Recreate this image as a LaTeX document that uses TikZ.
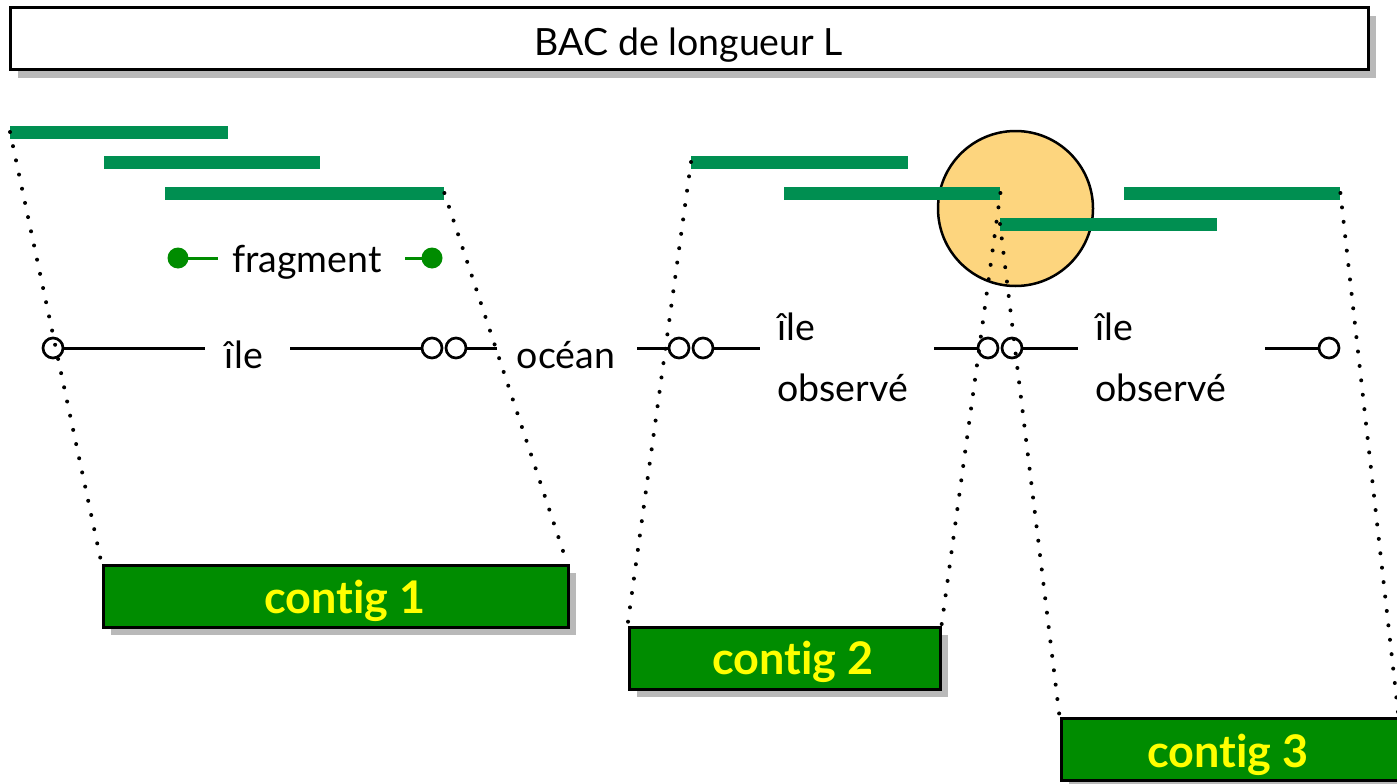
\documentclass[tikz,border=0pt]{standalone}
\usepackage{fontspec}
\setmainfont[Ligatures=NoCommon]{Lato}
\usetikzlibrary{shadows}
\definecolor{barc}{RGB}{0,143,81}
\definecolor{leggreen}{RGB}{0,140,0}
\definecolor{contigc}{RGB}{0,140,0}
\definecolor{orangec}{RGB}{253,213,126}
\definecolor{txtyellow}{RGB}{255,255,0}
\tikzset{
  bar/.style={rectangle,fill=barc,inner sep=0,minimum height=13pt,anchor=west},
  pt/.style={circle,draw=black,line width=2.7pt,fill=white,inner sep=0,minimum size=20pt},
  seg/.style={line width=3pt},
  dots/.style={line width=4pt,line cap=round,dash pattern=on 0pt off 14.5pt},
  contig/.style={rectangle,draw=black,line width=3pt,fill=contigc,inner sep=0,minimum height=62pt,
     drop shadow={shadow xshift=8pt,shadow yshift=-8pt,opacity=0.55}},
  ctext/.style={text=txtyellow,font=\fontsize{45}{48}\selectfont\bfseries,inner sep=0},
  lbl/.style={font=\fontsize{37.5}{61}\selectfont,inner sep=0},
}
\begin{document}
\begin{tikzpicture}[x=1pt,y=-1pt]
\useasboundingbox (0,0) rectangle (1397,784);
% title
\node[rectangle,draw=black,line width=3pt,fill=white,minimum width=1358pt,minimum height=62pt,inner sep=0,
  drop shadow={shadow xshift=8pt,shadow yshift=-8pt,opacity=0.55}] (title) at (689,39) {};
\node[lbl] (titletext) at (689,45) {BAC de longueur L};
% orange circle
\node[circle,draw=black,line width=2.5pt,fill=orangec,minimum size=155pt,inner sep=0] (blob) at (1015.5,208.5) {};
% fragments
\node[bar,minimum width=218pt] (b1) at (10,132) {};
\node[bar,minimum width=216pt] (b2) at (104,162) {};
\node[bar,minimum width=279pt] (b3) at (165,193) {};
\node[bar,minimum width=217pt] (b4) at (691,162) {};
\node[bar,minimum width=216pt] (b5) at (784,193) {};
\node[bar,minimum width=217pt] (b6) at (1000,224) {};
\node[bar,minimum width=216pt] (b7) at (1124,193) {};
% legend
\node[circle,fill=leggreen,inner sep=0,minimum size=21pt] (ld1) at (178,258) {};
\node[circle,fill=leggreen,inner sep=0,minimum size=21pt] (ld2) at (432,258) {};
\node[lbl] (frag) at (307,262) {fragment};
\coordinate (lg1) at (218,258);
\coordinate (lg2) at (405,258);
\draw[leggreen,line width=3pt] (ld1.center) -- (lg1);
\draw[leggreen,line width=3pt] (lg2) -- (ld2.center);
% main line texts
\node[lbl] (ile1) at (244,355) {île};
\node[lbl] (ocean) at (566,355) {océan};
\node[lbl,anchor=west,align=left] (obs1) at (777,357) {île\\observé};
\node[lbl,anchor=west,align=left] (obs2) at (1095,357) {île\\observé};
% line end coordinates
\coordinate (e1) at (205,348);
\coordinate (e2) at (290,348);
\coordinate (e3) at (497,348);
\coordinate (e4) at (637,348);
\coordinate (e5) at (760,348);
\coordinate (e6) at (934,348);
\coordinate (e7) at (1078,348);
\coordinate (e8) at (1265,348);
% segments
\coordinate (q1) at (53,348);
\coordinate (q2) at (432,348);
\coordinate (q3) at (456,348);
\coordinate (q4) at (679,348);
\coordinate (q5) at (703,348);
\coordinate (q6) at (988,348);
\coordinate (q7) at (1012,348);
\coordinate (q8) at (1329,348);
\draw[seg] (q1) -- (e1);
\draw[seg] (e2) -- (q2);
\draw[seg] (q3) -- (e3);
\draw[seg] (e4) -- (q4);
\draw[seg] (q5) -- (e5);
\draw[seg] (e6) -- (q6);
\draw[seg] (q7) -- (e7);
\draw[seg] (e8) -- (q8);
\node[pt] (p1) at (q1) {};
\node[pt] (p2) at (q2) {};
\node[pt] (p3) at (q3) {};
\node[pt] (p4) at (q4) {};
\node[pt] (p5) at (q5) {};
\node[pt] (p6) at (q6) {};
\node[pt] (p7) at (q7) {};
\node[pt] (p8) at (q8) {};
% contigs
\node[contig,minimum width=465pt] (c1) at (335.5,596) {};
\node[contig,minimum width=311pt] (c2) at (784.5,658) {};
\node[contig,minimum width=340pt] (c3) at (1231,749) {};
\node[ctext] (t1) at (345,601) {contig 1};
\node[ctext] (t2) at (793,662) {contig 2};
\node[ctext] (t3) at (1228,755) {contig 3};
% dotted projections
\draw[dots] (b1.west) -- (c1.north west);
\draw[dots] (b3.east) -- ([xshift=-4pt,yshift=5pt]c1.north east);
\draw[dots] (b4.west) -- (c2.north west);
\draw[dots] (b5.east) -- (c2.north east);
\draw[dots] (b6.west) -- (c3.north west);
\draw[dots] (b7.east) -- ([xshift=-4pt]c3.north east);
\end{tikzpicture}
\end{document}
